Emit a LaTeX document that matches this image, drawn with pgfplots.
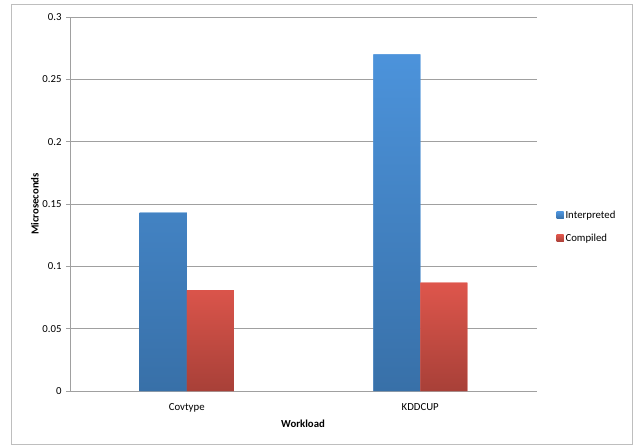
\documentclass[border=0pt]{standalone}
\usepackage{pgfplots}
\pgfplotsset{compat=1.18}
\usepackage{fontspec}
\setmainfont{Carlito}

\definecolor{blueTop}{RGB}{76,147,219}
\definecolor{blueBot}{RGB}{56,112,168}
\definecolor{redTop}{RGB}{222,86,76}
\definecolor{redBot}{RGB}{168,64,56}
\definecolor{gridGray}{RGB}{160,160,160}
\definecolor{frameGray}{RGB}{190,190,190}

\begin{document}
\begin{tikzpicture}[font=\fontsize{10.8}{13}\selectfont]
\begin{axis}[
  name=ax,
  scale only axis,
  width=467bp, height=374bp,
  ybar=0pt, bar width=47bp,
  xmin=-0.5, xmax=1.5,
  ymin=0, ymax=0.3,
  xtick=data,
  xticklabels={Covtype,KDDCUP},
  x tick style={draw=none},
  ytick={0,0.05,0.1,0.15,0.2,0.25,0.3},
  yticklabel style={/pgf/number format/fixed,/pgf/number format/precision=2,
    /pgf/number format/assume math mode=true, xshift=-1bp},
  xticklabel style={yshift=-5bp},
  y tick style={gridGray, line width=0.6pt},
  tick align=outside,
  major tick length=4bp,
  ymajorgrids,
  grid style={gridGray, line width=0.6pt},
  axis x line*=bottom,
  axis y line*=left,
  axis line style={gridGray, line width=0.6pt, -},
  xlabel={\textbf{Workload}},
  ylabel={\textbf{Microseconds}},
  every axis x label/.append style={at={(axis description cs:0.499,-0.088)}, anchor=center},
  every axis y label/.append style={at={(axis description cs:-0.075,0.5)}, anchor=center},
  legend style={draw=none, fill=none, at={(axis description cs:1.035,0.439)}, anchor=west,
    row sep=10bp, font=\fontsize{10.8}{13}\selectfont,
    /tikz/every even column/.append style={column sep=1bp}},
  legend cell align=left,
  legend image code/.code={\fill[#1] (0bp,-3.5bp) rectangle (7bp,3.5bp);},
]
\addplot[draw=none, top color=blueTop, bottom color=blueBot, fill=blueTop]
  coordinates {(0,0.143) (1,0.270)};
\addlegendentry{Interpreted}
\addplot[draw=none, top color=redTop, bottom color=redBot, fill=redTop]
  coordinates {(0,0.081) (1,0.087)};
\addlegendentry{Compiled}
\end{axis}
% outer chart frame
\draw[frameGray, line width=0.8pt] ([xshift=-59bp,yshift=-53bp]ax.south west) rectangle ([xshift=95bp,yshift=13bp]ax.north east);
\path ([xshift=-70bp,yshift=-54bp]ax.south west) rectangle ([xshift=99bp,yshift=17bp]ax.north east);
\end{tikzpicture}
\end{document}
